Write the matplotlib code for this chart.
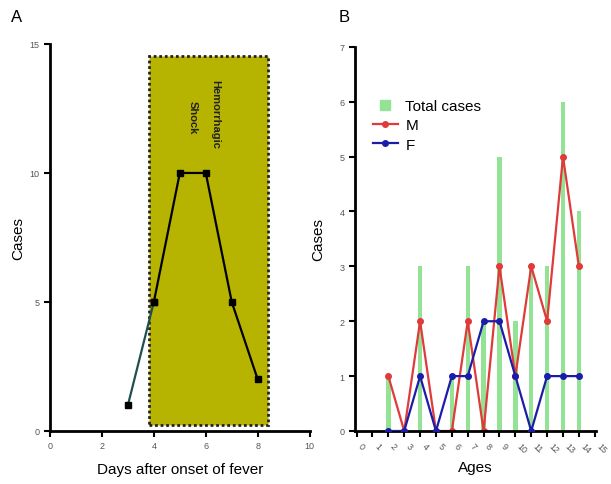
import matplotlib.pyplot as plt
from matplotlib.patches import Rectangle
from matplotlib.lines import Line2D

plt.rcParams["font.family"] = ["Liberation Sans", "DejaVu Sans"]

# panel A: cases by day after fever onset
days = [3, 4, 5, 6, 7, 8]
day_cases = [1, 5, 10, 10, 5, 2]

# panel B: cases by age
ages = [2, 3, 4, 5, 6, 7, 8, 9, 10, 11, 12, 13, 14]
total = [1, 0, 3, 0, 1, 3, 2, 5, 2, 3, 3, 6, 4]
male = [1, 0, 2, 0, 0, 2, 0, 3, 1, 3, 2, 5, 3]
female = [0, 0, 1, 0, 1, 1, 2, 2, 1, 0, 1, 1, 1]
age_ticks = list(range(16))

fig = plt.figure(figsize=(6.11, 4.85), dpi=100)


def style(ax):
    for s in ("top", "right"):
        ax.spines[s].set_visible(False)
    for s in ("left", "bottom"):
        ax.spines[s].set_linewidth(2)
    ax.tick_params(width=1.5, length=4, labelsize=6.5, colors="black", labelcolor="#555555")


# ---- A ----
axA = fig.add_axes([0.0818, 0.1093, 0.425, 0.798])
axA.add_patch(Rectangle((3.8, 0.25), 4.6, 14.3, facecolor="#b6b400",
                        edgecolor="#222222", linestyle=(0, (1, 1)), lw=2, zorder=1))
axA.plot(days[:2], day_cases[:2], color="#1f4f4f", lw=1.6, marker="s", ms=5,
         mfc="black", mec="black", zorder=3)
axA.plot(days[1:], day_cases[1:], color="black", lw=1.6, marker="s", ms=5, zorder=3)
axA.text(5.5, 12.2, "Shock", rotation=-90, fontsize=8, ha="center", va="center",
         fontweight="bold", color="#222222")
axA.text(6.35, 12.3, "Hemorrhagic", rotation=-90, fontsize=8, ha="center", va="center",
         fontweight="bold", color="#222222")
axA.set_xlim(0, 10)
axA.set_ylim(0, 15)
axA.set_xticks(range(0, 11, 2))
axA.set_yticks([0, 5, 10, 15])
style(axA)
axA.set_xlabel("Days after onset of fever", fontsize=11, labelpad=8)
axA.set_ylabel("Cases", fontsize=11, labelpad=3)
fig.text(0.018, 0.955, "A", fontsize=12)

# ---- B ----
axB = fig.add_axes([0.581, 0.1093, 0.395, 0.792])
axB.bar(ages, total, width=0.28, color="#94e294", zorder=1)
axB.plot(ages, male, color="#e03a3a", lw=1.6, marker="o", ms=4, zorder=2)
axB.plot(ages, female, color="#1c1ca8", lw=1.6, marker="o", ms=4, zorder=3)
axB.set_xlim(-0.1, 15.1)
axB.set_ylim(0, 7)
axB.set_xticks(age_ticks)
axB.set_xticklabels([str(a) for a in age_ticks], rotation=-45, ha="left")
axB.set_yticks(range(8))
style(axB)
axB.set_xlabel("Ages", fontsize=11, labelpad=4)
axB.set_ylabel("Cases", fontsize=11, labelpad=10)
handles = [
    Line2D([], [], ls="none", marker="s", ms=7, color="#94e294"),
    Line2D([], [], color="#e03a3a", lw=1.6, marker="o", ms=4),
    Line2D([], [], color="#1c1ca8", lw=1.6, marker="o", ms=4),
]
axB.legend(handles, ["Total cases", "M", "F"], loc="upper left",
           bbox_to_anchor=(0.05, 0.88), frameon=False, fontsize=11,
           handlelength=1.6, handletextpad=0.5, labelspacing=0.35, borderaxespad=0)
fig.text(0.555, 0.955, "B", fontsize=12)

fig.savefig("out.png", dpi=100)
